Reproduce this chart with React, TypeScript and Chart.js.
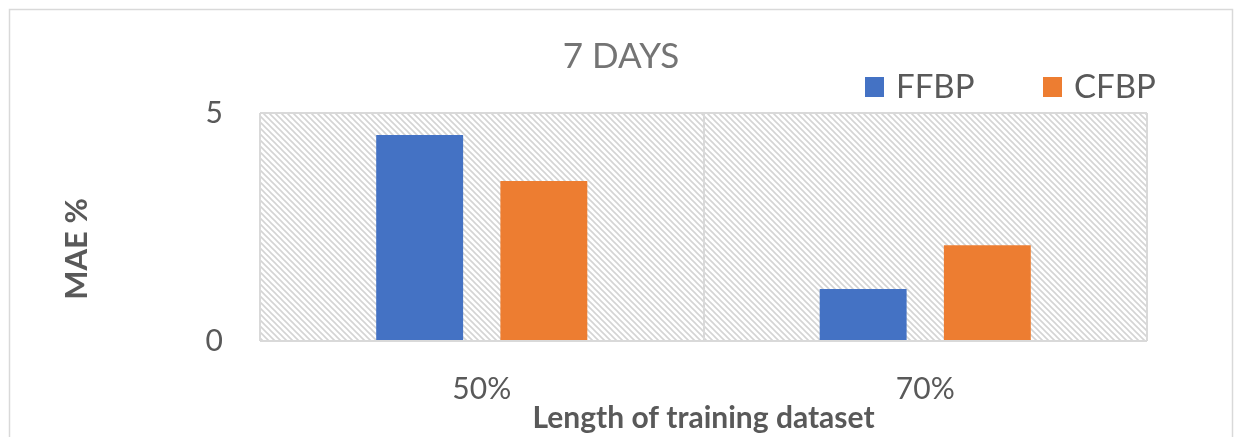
import React, { useEffect, useRef } from "react";
import { Chart, registerables } from "chart.js";

Chart.register(...registerables);

const categories = ["50%", "70%"];
const ffbpValues = [4.52, 1.14];
const cfbpValues = [3.51, 2.1];
const seriesNames = ["FFBP", "CFBP"];
const yTickValues = [0, 5];
const chartTitle = "7 DAYS";
const xTitle = "Length of training dataset";
const yTitle = "MAE %";

const FONT = "Lato, 'Noto Sans', sans-serif";
const BLUE = "#4472C4";
const ORANGE = "#ED7D31";
const GRID = "#d9d9d9";
const TEXT = "#595959";

function makePattern(ctx: CanvasRenderingContext2D) {
  const p = 6;
  const c = document.createElement("canvas");
  c.width = p;
  c.height = p;
  const g = c.getContext("2d")!;
  g.fillStyle = "#ffffff";
  g.fillRect(0, 0, p, p);
  g.strokeStyle = "#d4d4d4";
  g.lineWidth = 1.6;
  g.beginPath();
  g.moveTo(-1, -1);
  g.lineTo(p + 1, p + 1);
  g.moveTo(-1, p - 1);
  g.lineTo(1, p + 1);
  g.moveTo(p - 1, -1);
  g.lineTo(p + 1, 1);
  g.stroke();
  return ctx.createPattern(c, "repeat");
}

const decorPlugin = {
  id: "decor",
  beforeDraw(chart: any) {
    const { ctx, chartArea } = chart;
    ctx.save();
    ctx.fillStyle = "#ffffff";
    ctx.fillRect(0, 0, chart.width, chart.height);
    ctx.strokeStyle = GRID;
    ctx.lineWidth = 1.5;
    ctx.strokeRect(9.5, 9.5, 1223, 600);
    const pat = makePattern(ctx);
    if (pat) {
      ctx.fillStyle = pat;
      ctx.fillRect(
        chartArea.left,
        chartArea.top,
        chartArea.right - chartArea.left,
        chartArea.bottom - chartArea.top
      );
    }
    ctx.restore();
  },
  afterDraw(chart: any) {
    const { ctx, chartArea } = chart;
    ctx.save();
    // title
    ctx.fillStyle = "#747474";
    ctx.font = `35px ${FONT}`;
    ctx.textAlign = "center";
    ctx.textBaseline = "alphabetic";
    ctx.fillText(chartTitle, 621, 68);
    // legend
    const legendX = [865, 1043];
    ctx.font = `33px ${FONT}`;
    ctx.textAlign = "left";
    chart.data.datasets.forEach((ds: any, i: number) => {
      ctx.fillStyle = ds.backgroundColor;
      ctx.fillRect(legendX[i], 77, 19, 20);
      ctx.fillStyle = TEXT;
      ctx.fillText(ds.label, legendX[i] + 31, 98);
    });
    // x title
    ctx.font = `bold 30px ${FONT}`;
    ctx.textAlign = "center";
    ctx.fillStyle = TEXT;
    ctx.fillText(xTitle, (chartArea.left + chartArea.right) / 2, 428);
    // y title
    ctx.font = `bold 31px ${FONT}`;
    ctx.translate(87, 249);
    ctx.rotate(-Math.PI / 2);
    ctx.fillText(yTitle, 0, 0);
    ctx.restore();
  },
};

export default function App() {
  const ref = useRef<HTMLCanvasElement>(null);
  useEffect(() => {
    document.body.style.margin = "0";
    const chart = new Chart(ref.current!, {
      type: "bar",
      data: {
        labels: categories,
        datasets: [
          { label: seriesNames[0], data: ffbpValues, backgroundColor: BLUE },
          { label: seriesNames[1], data: cfbpValues, backgroundColor: ORANGE },
        ],
      },
      options: {
        responsive: false,
        animation: false,
        layout: { padding: { left: 0, top: 113, right: 87, bottom: 0 } },
        datasets: {
          bar: { barPercentage: 0.7, categoryPercentage: 0.56 },
        },
        plugins: {
          legend: { display: false },
          title: { display: false },
          tooltip: { enabled: false },
        },
        scales: {
          x: {
            offset: true,
            grid: {
              offset: true,
              color: GRID,
              lineWidth: 2,
              drawTicks: false,
            },
            border: { display: false },
            ticks: {
              color: TEXT,
              font: { family: FONT, size: 30 },
              padding: 30,
            },
            afterFit: (s: any) => {
              s.height = 96;
            },
          },
          y: {
            min: 0,
            max: 5,
            afterBuildTicks: (s: any) => {
              s.ticks = yTickValues.map((v) => ({ value: v }));
            },
            grid: { color: GRID, lineWidth: 2, drawTicks: false },
            border: { display: false },
            ticks: {
              color: TEXT,
              font: { family: FONT, size: 30 },
              padding: 37,
            },
            afterFit: (s: any) => {
              s.width = 260;
            },
          },
        },
      },
      plugins: [decorPlugin],
    });
    return () => chart.destroy();
  }, []);
  return <canvas ref={ref} width={1234} height={437} style={{ display: "block" }} />;
}
